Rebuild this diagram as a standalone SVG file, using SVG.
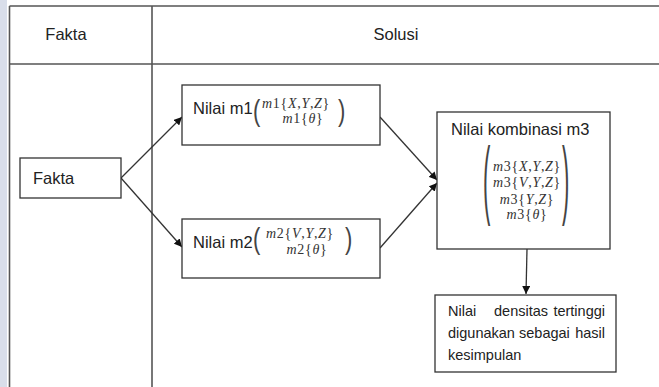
<svg xmlns="http://www.w3.org/2000/svg" width="659" height="387" viewBox="0 0 659 387">
  <style>
    .grid { stroke: #555; stroke-width: 1.6; fill: none; }
    .box { fill: #fff; stroke: #333; stroke-width: 1.3; }
    .edge { stroke: #333; stroke-width: 1.3; fill: none; marker-end: url(#arrow); }
    .lbl { font-family: "Liberation Sans", Arial, sans-serif; font-size: 16.5px; fill: #222; }
    .small { font-family: "Liberation Sans", Arial, sans-serif; font-size: 14.5px; fill: #222; }
    .math { font-family: "Liberation Serif", "Times New Roman", serif; font-size: 14px; font-style: italic; fill: #333; letter-spacing: 0.7px; }
    .up { font-style: normal; }
    .paren { font-family: "Liberation Sans", Arial, sans-serif; font-size: 22px; fill: #444; }
  </style>
  <defs>
    <marker id="arrow" viewBox="0 0 10 10" refX="10" refY="5" markerWidth="8" markerHeight="8" markerUnits="userSpaceOnUse" orient="auto">
      <path d="M0,0 L10,5 L0,10 z" fill="#111"/>
    </marker>
  </defs>

  <rect width="659" height="387" fill="#fff"/>
  <!-- page margin strip -->
  <rect x="0" y="0" width="7" height="387" fill="#d9deea"/>

  <!-- table frame -->
  <g id="table">
    <line class="grid" x1="9.5" y1="6" x2="659" y2="6"/>
    <line class="grid" x1="9.5" y1="64" x2="659" y2="64"/>
    <line class="grid" x1="9.5" y1="6" x2="9.5" y2="387"/>
    <line class="grid" x1="152" y1="6" x2="152" y2="387"/>
    <text class="lbl" x="66" y="40" text-anchor="middle">Fakta</text>
    <text class="lbl" x="396" y="40" text-anchor="middle">Solusi</text>
  </g>

  <!-- connectors -->
  <g id="connectors">
    <line class="edge" x1="121" y1="178" x2="182" y2="117"/>
    <line class="edge" x1="121" y1="178" x2="182" y2="247"/>
    <line class="edge" x1="380" y1="117" x2="437" y2="180"/>
    <line class="edge" x1="380" y1="248" x2="437" y2="183"/>
    <line class="edge" x1="527" y1="249" x2="526" y2="294"/>
  </g>

  <g id="fakta">
    <rect class="box" x="20" y="158" width="101" height="40"/>
    <text class="lbl" x="33" y="184">Fakta</text>
  </g>

  <g id="m1">
    <rect class="box" x="182" y="85" width="198" height="60"/>
    <text class="lbl" x="193" y="114">Nilai m1</text>
    <text class="paren" transform="translate(253 120.5) scale(1 1.3)">(</text>
    <text class="math" x="296" y="108" text-anchor="middle">m<tspan class="up">1{</tspan>X<tspan class="up">,</tspan>Y<tspan class="up">,</tspan>Z<tspan class="up">}</tspan></text>
    <text class="math" x="303" y="123" text-anchor="middle">m<tspan class="up">1{</tspan>θ<tspan class="up">}</tspan></text>
    <text class="paren" transform="translate(338 120.5) scale(1 1.3)">)</text>
  </g>

  <g id="m2">
    <rect class="box" x="182" y="219" width="198" height="59"/>
    <text class="lbl" x="193" y="248">Nilai m2</text>
    <text class="paren" transform="translate(253 248.5) scale(1 1.3)">(</text>
    <text class="math" x="300" y="238" text-anchor="middle" letter-spacing="1.4">m<tspan class="up">2{</tspan>V<tspan class="up">,</tspan>Y<tspan class="up">,</tspan>Z<tspan class="up">}</tspan></text>
    <text class="math" x="307" y="254" text-anchor="middle">m<tspan class="up">2{</tspan>θ<tspan class="up">}</tspan></text>
    <text class="paren" transform="translate(345 248.5) scale(1 1.3)">)</text>
  </g>

  <g id="m3">
    <rect class="box" x="437" y="112" width="173" height="137"/>
    <text class="lbl" x="451" y="135">Nilai kombinasi m3</text>
    <text class="paren" transform="translate(483 208) scale(1 4.0)">(</text>
    <text class="math" x="527" y="171" text-anchor="middle">m<tspan class="up">3{</tspan>X<tspan class="up">,</tspan>Y<tspan class="up">,</tspan>Z<tspan class="up">}</tspan></text>
    <text class="math" x="527" y="187" text-anchor="middle">m<tspan class="up">3{</tspan>V<tspan class="up">,</tspan>Y<tspan class="up">,</tspan>Z<tspan class="up">}</tspan></text>
    <text class="math" x="527" y="204" text-anchor="middle">m<tspan class="up">3{</tspan>Y<tspan class="up">,</tspan>Z<tspan class="up">}</tspan></text>
    <text class="math" x="527" y="219" text-anchor="middle">m<tspan class="up">3{</tspan>θ<tspan class="up">}</tspan></text>
    <text class="paren" transform="translate(562 208) scale(1 4.0)">)</text>
  </g>

  <g id="hasil">
    <rect class="box" x="435" y="295" width="181" height="77"/>
    <text class="small" y="316"><tspan x="448">Nilai</tspan><tspan x="494">densitas</tspan><tspan x="605" text-anchor="end">tertinggi</tspan></text>
    <text class="small" y="338"><tspan x="448">digunakan</tspan><tspan x="519">sebagai</tspan><tspan x="605" text-anchor="end">hasil</tspan></text>
    <text class="small" x="448" y="360">kesimpulan</text>
  </g>
</svg>
